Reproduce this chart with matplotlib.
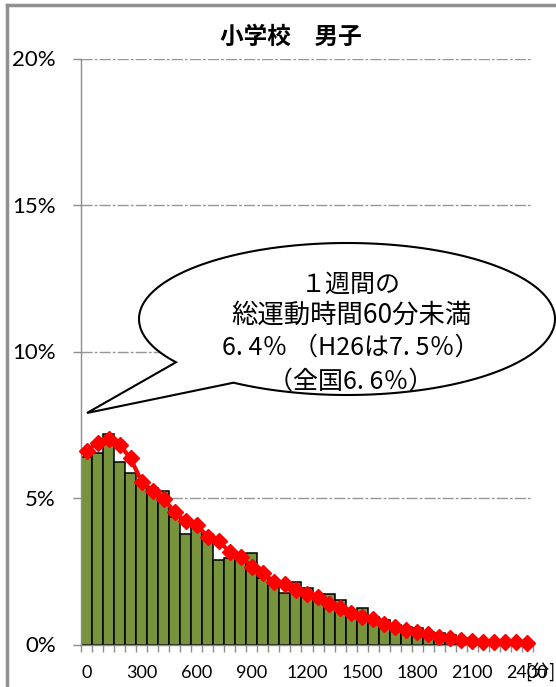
import numpy as np
import matplotlib
matplotlib.use("Agg")
import matplotlib.pyplot as plt
from matplotlib.path import Path
from matplotlib.patches import PathPatch
from matplotlib.lines import Line2D

# 1週間の総運動時間 (分) : 60分刻みの区間
minutes = list(range(0, 2401, 60))
# 棒グラフ (%)
bars = [6.40, 6.54, 7.19, 6.22, 5.86, 5.50, 5.33, 5.25, 4.36, 3.77,
        4.05, 3.77, 2.90, 2.94, 3.00, 3.13, 2.26, 2.02, 1.75, 2.12,
        1.94, 1.72, 1.72, 1.52, 1.15, 1.26, 0.95, 0.84, 0.67, 0.59,
        0.57, 0.44, 0.39, 0.32, 0.21, 0.16, 0.14, 0.10, 0.10, 0.08, 0.13]
# 折れ線 (全国, %)
line = [6.60, 6.89, 7.01, 6.82, 6.35, 5.56, 5.25, 4.97, 4.52, 4.20,
        4.07, 3.68, 3.53, 3.15, 2.99, 2.66, 2.45, 2.13, 2.07, 1.86,
        1.71, 1.63, 1.38, 1.24, 1.06, 0.93, 0.86, 0.70, 0.59, 0.49,
        0.41, 0.35, 0.27, 0.21, 0.16, 0.13, 0.10, 0.09, 0.08, 0.08, 0.05]
yticks = [0, 5, 10, 15, 20]

title = "小学校　男子"
bubble_lines = ["１週間の", "総運動時間60分未満", "6. 4％ （H26は7. 5％）", "（全国6. 6％）"]

W, H = 556, 687
jp = ["Noto Sans CJK JP", "DejaVu Sans"]
gray = "#8c8c8c"

fig = plt.figure(figsize=(W / 100, H / 100), dpi=100)
ax = fig.add_axes([81 / W, 1 - 644.5 / H, (533 - 81) / W, (644.5 - 58.5) / H])

def px(x, y):
    # pixel -> figure fraction
    return x / W, 1 - y / H

idx = np.arange(len(minutes))
ax.bar(idx, bars, width=1.0, color="#77933C", edgecolor="black", linewidth=1.1, zorder=2)
ax.plot(idx, line, color="red", lw=3, marker="D", ms=8.5, mec="red", mfc="red", zorder=4, clip_on=False)

ax.set_xlim(-0.5, len(minutes) - 0.5)
ax.set_ylim(0, 20)
ax.set_yticks(yticks)
ax.set_yticklabels(["{}%".format(v) for v in yticks], fontsize=16, family=["Lato", "DejaVu Sans"])
ax.set_xticks(idx[::5])
ax.set_xticklabels([str(m) for m in minutes[::5]], fontsize=13, family=["Lato", "DejaVu Sans"])
ax.set_xticks(np.arange(-0.5, len(minutes), 1), minor=True)
ax.tick_params(axis="x", which="major", length=0, pad=15)
ax.tick_params(axis="x", which="minor", length=5, color=gray, width=1)
ax.tick_params(axis="y", length=6, color=gray, width=1, pad=12)

for s in ["top", "right"]:
    ax.spines[s].set_visible(False)
for s in ["left", "bottom"]:
    ax.spines[s].set_color(gray)
    ax.spines[s].set_linewidth(1)

ax.yaxis.grid(True, color="#969696", lw=1, linestyle=(0, (8, 1.5, 2, 1.5)), zorder=0)
ax.set_axisbelow(True)

# title and unit
fig.text(*px(291, 37), title, ha="center", va="center", fontsize=17, fontweight="bold", family=jp)
fig.text(*px(540, 672), "[分]", ha="center", va="center", fontsize=13, family=jp)

# callout bubble
cx, cy, a, b = 347, 319, 208, 76
t1 = np.arctan2(43 / b, -170 / a)
t2 = np.arctan2(64 / b, -114 / a) + 2 * np.pi
th = np.linspace(t1, t2, 200)
pts = [px(cx + a * np.cos(t), cy + b * np.sin(t)) for t in th]
pts.append(px(87, 413))
pts.append(pts[0])
codes = [Path.MOVETO] + [Path.LINETO] * (len(pts) - 2) + [Path.CLOSEPOLY]
bubble = PathPatch(Path(pts, codes), facecolor="white", edgecolor="black", lw=1.5,
                   transform=fig.transFigure, zorder=5)
fig.patches.append(bubble)

for txt, y, fs in zip(bubble_lines, [285, 315, 348, 382], [18, 19, 18, 18]):
    fig.text(*px(351, y), txt, ha="center", va="center", fontsize=fs, family=jp, zorder=6)

# outer frame (left and top)
fig.add_artist(Line2D([7 / W, 7 / W], [0, 1 - 5 / H], color="#909090", lw=2.5, transform=fig.transFigure))
fig.add_artist(Line2D([7 / W, 1], [1 - 5 / H, 1 - 5 / H], color="#909090", lw=2.5, transform=fig.transFigure))

fig.savefig("out.png", dpi=100)
